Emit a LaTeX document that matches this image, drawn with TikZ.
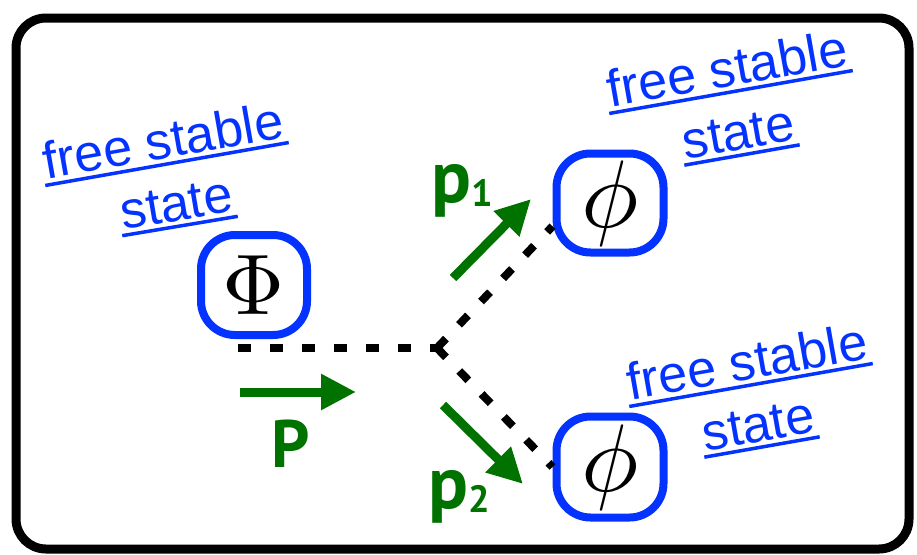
\documentclass[tikz,border=0pt]{standalone}
\usepackage{graphicx}
\usepackage{fontspec}
\setsansfont{Liberation Sans}
\newfontfamily\labfont{PT Sans}
\usetikzlibrary{arrows.meta,calc}
\definecolor{kblue}{RGB}{4,51,255}
\definecolor{kgreen}{RGB}{0,114,0}
\newcommand\momsub[1]{\raisebox{-4pt}{\fontsize{38}{38}\selectfont #1}}
\begin{document}
\begin{tikzpicture}[x=1pt,y=-1pt,
  frame/.style={draw=black,line width=9pt,rounded corners=30pt},
  statebox/.style={draw=kblue,line width=8pt,rounded corners=34pt,inner sep=0pt},
  prop/.style={draw=black,line width=8pt,dash pattern=on 13pt off 19pt},
  mom/.style={draw=kgreen,line width=9pt,-{Triangle[length=35pt,width=34pt]}},
  momlabel/.style={text=kgreen,font=\labfont\bfseries\fontsize{74}{74}\selectfont,inner sep=0pt},
  fsl/.style={text=kblue,font=\sffamily\fontsize{52}{52}\selectfont,inner xsep=2pt,inner ysep=5pt,anchor=south},
  ul/.style={draw=kblue,line width=3.5pt}]
\useasboundingbox (0,0) rectangle (917,554);
\draw[frame] (16,18) rectangle (909,549);

% states
\node[statebox,minimum width=106pt,minimum height=100pt] (Phi) at (254,285) {\scalebox{8.6}{$\Phi$}};
\node[statebox,minimum width=107pt,minimum height=99pt] (phi1) at (610,203) {\scalebox{9.6}{$\phi$}};
\node[statebox,minimum width=107pt,minimum height=101pt] (phi2) at (610,467) {\scalebox{9.6}{$\phi$}};

% propagators
\coordinate (in) at (238,348);
\coordinate (v) at (437,348);
\draw[prop] (in) -- (v);
\draw[prop] (v) -- (phi1.202);
\draw[prop] (v) -- (phi2.west);

% momenta
\coordinate (Pa) at (240,392); \coordinate (Pb) at (356,392);
\coordinate (p1a) at (453,278); \coordinate (p1b) at (531,199);
\coordinate (p2a) at (443,405); \coordinate (p2b) at (523,484);
\draw[mom] (Pa) -- (Pb);
\draw[mom] (p1a) -- (p1b);
\draw[mom] (p2a) -- (p2b);
\node[momlabel,anchor=base,font=\labfont\bfseries\fontsize{67}{67}\selectfont] (lP) at (291,467) {P};
\node[momlabel,anchor=base west] (lp1) at (431,202) {p\momsub{1}};
\node[momlabel,anchor=base west] (lp2) at (428,508) {p\momsub{2}};

% labels
\node[fsl,rotate=10] (a1) at (167,164) {free stable};
\draw[ul] (a1.south west) -- (a1.south east);
\node[fsl,rotate=9.5] (a2) at (180,226) {state};
\draw[ul] (a2.south west) -- (a2.south east);

\node[fsl,rotate=10] (b1) at (731,92) {free stable};
\draw[ul] (b1.south west) -- (b1.south east);
\node[fsl,rotate=10] (b2) at (742,155) {state};
\draw[ul] (b2.south west) -- (b2.south east);

\node[fsl,rotate=10] (c1) at (751,385) {free stable};
\draw[ul] (c1.south west) -- (c1.south east);
\node[fsl,rotate=10] (c2) at (762,447) {state};
\draw[ul] (c2.south west) -- (c2.south east);
\end{tikzpicture}
\end{document}
